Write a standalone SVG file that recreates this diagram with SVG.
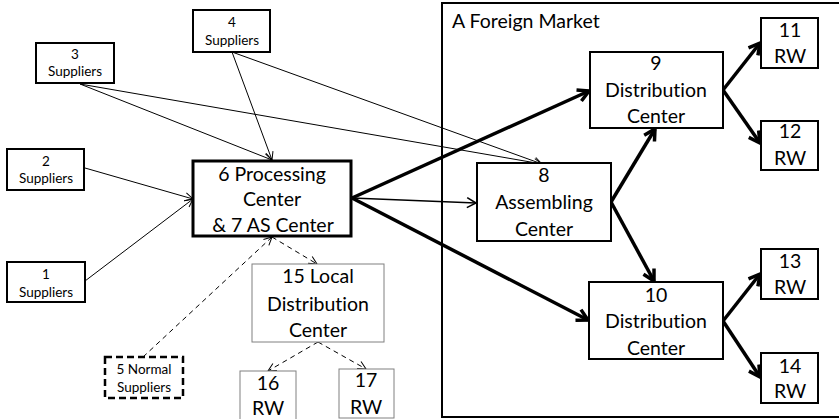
<svg xmlns="http://www.w3.org/2000/svg" width="839" height="419" viewBox="0 0 839 419">
<defs>
<style>
.t{font-family:Lato,"Liberation Sans",sans-serif;fill:#000;text-anchor:middle;font-variant-ligatures:none;font-feature-settings:"liga" 0}
.s{font-size:13.5px}
.l{font-size:19.5px}
.bx{fill:#fff;stroke:#000;stroke-width:2}
.b6{fill:#fff;stroke:#000;stroke-width:3}
.bg{fill:#fff;stroke:#808080;stroke-width:1}
.bd{fill:#fff;stroke:#000;stroke-width:2.5;stroke-dasharray:7,4}
.c1{fill:none;stroke:#000;stroke-width:1;marker-end:url(#a1)}
.c2{fill:none;stroke:#000;stroke-width:1.6;marker-end:url(#a2)}
.c3{fill:none;stroke:#000;stroke-width:3.5;marker-end:url(#a3)}
.cd{fill:none;stroke:#000;stroke-width:1;stroke-dasharray:5,4;marker-end:url(#a1)}
</style>
<marker id="a1" markerUnits="userSpaceOnUse" viewBox="-10 -6 12 12" refX="0" refY="0" markerWidth="12" markerHeight="12" orient="auto" overflow="visible">
<path d="M-8,-4 L0,0 L-8,4" fill="none" stroke="#000" stroke-width="1"/>
</marker>
<marker id="a2" markerUnits="userSpaceOnUse" viewBox="-10 -6 12 12" refX="0" refY="0" markerWidth="12" markerHeight="12" orient="auto" overflow="visible">
<path d="M-9,-5 L0,0 L-9,5" fill="none" stroke="#000" stroke-width="1.6"/>
</marker>
<marker id="a3" markerUnits="userSpaceOnUse" viewBox="-14 -8 16 16" refX="0" refY="0" markerWidth="16" markerHeight="16" orient="auto" overflow="visible">
<path d="M-11,-6 L0,0 L-11,6" fill="none" stroke="#000" stroke-width="3.5" stroke-linejoin="miter"/>
</marker>
</defs>
<rect width="839" height="419" fill="#fff"/>

<g id="market">
<rect x="442" y="3" width="420" height="414" fill="none" stroke="#000" stroke-width="2"/>
<text class="t l" x="452" y="28" style="text-anchor:start">A Foreign Market</text>
</g>

<g id="connectors">
<path class="c1" d="M232,52 L272,160"/>
<path class="c1" d="M80,84 L272,160"/>
<path class="c1" d="M80,84 L542,164"/>
<path class="c1" d="M232,52 L542,164"/>
<path class="c1" d="M85,168 L193,199"/>
<path class="c1" d="M85,281 L193,199"/>
<path class="c2" d="M352,198 L476,203"/>
<path class="c3" d="M352,198 L589,91"/>
<path class="c3" d="M352,198 L588,320"/>
<path class="c3" d="M611,202 L655,129"/>
<path class="c3" d="M611,202 L654,281"/>
<path class="c3" d="M723,90 L760,43"/>
<path class="c3" d="M723,90 L760,143"/>
<path class="c3" d="M723,321 L760,274"/>
<path class="c3" d="M723,321 L760,377"/>
<path class="cd" d="M272,237 L317,264"/>
<path class="cd" d="M143,357 L272,237"/>
<path class="cd" d="M318,342 L268,371"/>
<path class="cd" d="M318,342 L366,369"/>
</g>

<g id="n1"><rect class="bx" x="7" y="262" width="78" height="40"/><text class="t s" x="46" y="279">1</text><text class="t s" x="46" y="297">Suppliers</text></g>
<g id="n2"><rect class="bx" x="7" y="149" width="77" height="41"/><text class="t s" x="46" y="166">2</text><text class="t s" x="46" y="183">Suppliers</text></g>
<g id="n3"><rect class="bx" x="36" y="43" width="78" height="40"/><text class="t s" x="75" y="59">3</text><text class="t s" x="75" y="76">Suppliers</text></g>
<g id="n4"><rect class="bx" x="193" y="10" width="77" height="42"/><text class="t s" x="232" y="27">4</text><text class="t s" x="232" y="45">Suppliers</text></g>
<g id="n5"><rect class="bd" x="105" y="357" width="78" height="41"/><text class="t s" x="144" y="374">5 Normal</text><text class="t s" x="144" y="392">Suppliers</text></g>
<g id="n6"><rect class="b6" x="193" y="161" width="158" height="75"/><text class="t l" x="272" y="181">6 Processing</text><text class="t l" x="272" y="206">Center</text><text class="t l" x="273" y="232">&amp; 7 AS Center</text></g>
<g id="n8"><rect class="bx" x="477" y="163" width="134" height="78"/><text class="t l" x="544" y="182">8</text><text class="t l" x="544" y="209">Assembling</text><text class="t l" x="544" y="236">Center</text></g>
<g id="n9"><rect class="bx" x="590" y="52" width="133" height="76"/><text class="t l" x="656" y="70">9</text><text class="t l" x="656" y="97">Distribution</text><text class="t l" x="656" y="123">Center</text></g>
<g id="n10"><rect class="bx" x="589" y="282" width="134" height="77"/><text class="t l" x="656" y="302">10</text><text class="t l" x="656" y="328">Distribution</text><text class="t l" x="656" y="355">Center</text></g>
<g id="n11"><rect class="bx" x="761" y="18" width="57" height="50"/><text class="t l" x="790" y="37">11</text><text class="t l" x="790" y="63">RW</text></g>
<g id="n12"><rect class="bx" x="761" y="121" width="57" height="49"/><text class="t l" x="790" y="138">12</text><text class="t l" x="790" y="165">RW</text></g>
<g id="n13"><rect class="bx" x="761" y="249" width="57" height="50"/><text class="t l" x="790" y="268">13</text><text class="t l" x="790" y="294">RW</text></g>
<g id="n14"><rect class="bx" x="761" y="353" width="57" height="50"/><text class="t l" x="790" y="373">14</text><text class="t l" x="790" y="398">RW</text></g>
<g id="n15"><rect class="bg" x="252" y="264" width="132" height="78"/><text class="t l" x="318" y="283">15 Local</text><text class="t l" x="318" y="311">Distribution</text><text class="t l" x="318" y="337">Center</text></g>
<g id="n16"><rect class="bg" x="240" y="371" width="56" height="55"/><text class="t l" x="268" y="390">16</text><text class="t l" x="268" y="415">RW</text></g>
<g id="n17"><rect class="bg" x="339" y="369" width="55" height="49"/><text class="t l" x="366" y="387">17</text><text class="t l" x="366" y="414">RW</text></g>
</svg>
